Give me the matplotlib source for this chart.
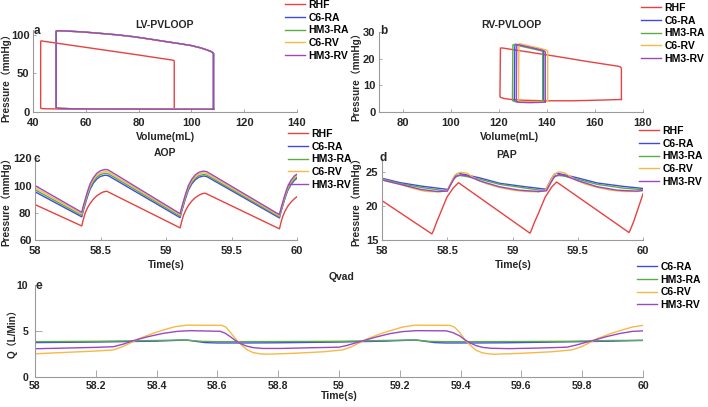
import matplotlib
matplotlib.use("Agg")
import matplotlib.pyplot as plt

plt.rcParams['font.family'] = ['Liberation Sans', 'Noto Sans CJK SC']
plt.rcParams['font.weight'] = 'bold'

# ---------------- colours / series names ----------------
names = ['RHF', 'C6-RA', 'HM3-RA', 'C6-RV', 'HM3-RV']
colors = {'RHF': '#e8413f', 'C6-RA': '#3f48e8', 'HM3-RA': '#5bab4a',
          'C6-RV': '#f7b844', 'HM3-RV': '#9a48c2'}

# ---------------- a: LV PV loops ----------------
lv_rhf_v = [93.5, 93.5, 93.2, 92.5, 80, 70, 60, 50, 44, 43.2, 42.9, 42.9, 43.3, 44.5, 50, 60, 70, 80, 90, 93.5]
lv_rhf_p = [3.0, 66.0, 67.0, 67.4, 73.9, 78.9, 83.9, 88.9, 91.9, 92.4, 92.0, 4.5, 3.9, 3.6, 3.3, 3.1, 3.0, 3.0, 3.0, 3.0]
lv_c6ra_v = [108.5, 108.5, 108.2, 107.4, 105.0, 103.3, 100.0, 95.0, 90.7, 85.0, 78.1, 72.0, 65.4, 59.0, 52.8, 50.0, 49.0, 48.6, 48.6, 49.1, 50.5, 55, 65, 80, 95, 108.5]
lv_c6ra_p = [3.0, 75.6, 77.1, 78.7, 81.7, 83.5, 86.3, 89.1, 91.3, 94.4, 97.9, 100.3, 102.3, 104.1, 105.3, 105.7, 105.7, 104.9, 5.2, 4.5, 4.0, 3.6, 3.3, 3.1, 3.0, 3.0]
lv_hm3ra_v = [108.3, 108.3, 108.0, 107.3, 105.0, 103.3, 100.0, 95.0, 90.7, 85.0, 78.1, 72.0, 65.4, 59.0, 52.8, 50.0, 49.2, 48.8, 48.8, 49.3, 50.5, 55, 65, 80, 95, 108.3]
lv_hm3ra_p = [3.0, 75.5, 77.0, 78.6, 81.6, 83.4, 86.2, 89.0, 91.2, 94.3, 97.8, 100.2, 102.2, 104.0, 105.2, 105.6, 105.6, 104.8, 5.2, 4.5, 4.0, 3.6, 3.3, 3.1, 3.0, 3.0]
lv_c6rv_v = [108.4, 108.4, 108.1, 107.3, 105.0, 103.3, 100.0, 95.0, 90.7, 85.0, 78.1, 72.0, 65.4, 59.0, 52.8, 50.0, 49.2, 48.8, 48.8, 49.3, 50.5, 55, 65, 80, 95, 108.4]
lv_c6rv_p = [3.1, 75.4, 76.9, 78.5, 81.5, 83.3, 86.1, 88.9, 91.1, 94.2, 97.7, 100.1, 102.1, 103.9, 105.1, 105.5, 105.5, 104.7, 5.2, 4.5, 4.0, 3.6, 3.3, 3.1, 3.1, 3.1]
lv_hm3rv_v = [108.3, 108.3, 108.0, 107.3, 105.0, 103.3, 100.0, 95.0, 90.7, 85.0, 78.1, 72.0, 65.4, 59.0, 52.8, 50.0, 49.2, 48.8, 48.8, 49.3, 50.5, 55, 65, 80, 95, 108.3]
lv_hm3rv_p = [3.0, 75.5, 77.0, 78.6, 81.6, 83.4, 86.2, 89.0, 91.2, 94.3, 97.8, 100.2, 102.2, 104.0, 105.2, 105.6, 105.6, 104.8, 5.2, 4.5, 4.0, 3.6, 3.3, 3.1, 3.0, 3.0]

# ---------------- b: RV PV loops ----------------
rv_rhf_v = [171.0, 171.0, 170.6, 169.5, 165.0, 155.0, 145.0, 135.0, 125.0, 121.5, 120.6, 120.4, 120.6, 122.0, 125.0, 130.0, 140.0, 150.0, 160.0, 171.0]
rv_rhf_p = [4.7, 16.3, 16.9, 17.2, 17.8, 19.2, 20.7, 22.1, 23.5, 24.0, 24.0, 5.9, 5.5, 5.1, 4.7, 4.4, 4.2, 4.2, 4.4, 4.7]
rv_c6ra_v = [138.6, 138.6, 138.2, 135.0, 131.0, 127.5, 126.6, 126.4, 126.7, 128.0, 132.0, 136.0, 138.6]
rv_c6ra_p = [3.9, 22.7, 23.1, 23.8, 24.6, 25.3, 25.4, 4.2, 3.9, 3.8, 3.7, 3.8, 3.9]
rv_hm3ra_v = [138.2, 138.2, 137.8, 134.5, 130.5, 126.8, 125.8, 125.6, 125.9, 127.5, 131.5, 135.5, 138.2]
rv_hm3ra_p = [4.1, 22.5, 22.9, 23.6, 24.4, 25.1, 25.2, 4.4, 4.1, 4.0, 3.9, 4.0, 4.1]
rv_c6rv_v = [140.3, 140.3, 139.9, 136.5, 132.5, 129.2, 128.3, 128.1, 128.4, 130.0, 134.0, 138.0, 140.3]
rv_c6rv_p = [4.0, 22.8, 23.2, 24.0, 24.8, 25.5, 25.6, 4.3, 4.0, 3.9, 3.8, 3.9, 4.0]
rv_hm3rv_v = [139.3, 139.3, 138.9, 135.5, 131.5, 128.3, 127.4, 127.2, 127.5, 129.0, 133.0, 137.0, 139.3]
rv_hm3rv_p = [3.8, 22.5, 22.9, 23.7, 24.5, 25.2, 25.3, 4.1, 3.8, 3.6, 3.5, 3.6, 3.8]

# ---------------- c: AOP ----------------
aop_rhf_t = [58.00, 58.357, 58.370, 58.382, 58.400, 58.420, 58.446, 58.471, 58.500, 58.525, 58.548, 58.800,
             59.108, 59.121, 59.133, 59.151, 59.171, 59.197, 59.222, 59.251, 59.276, 59.299, 59.550,
             59.866, 59.879, 59.891, 59.909, 59.929, 59.955, 59.980, 60.00]
aop_rhf = [86.0, 70.3, 75.5, 79.5, 83.5, 86.8, 90.0, 92.4, 94.3, 95.4, 95.8, 83.7,
           68.9, 74.0, 78.0, 82.0, 85.4, 88.6, 91.0, 92.9, 94.0, 94.4, 82.8,
           68.2, 73.3, 77.3, 81.3, 84.7, 87.9, 90.3, 91.8]
aop_t = [58.00, 58.357, 58.367, 58.382, 58.400, 58.420, 58.446, 58.472, 58.500, 58.535, 58.560, 58.800,
         59.108, 59.118, 59.133, 59.151, 59.171, 59.197, 59.223, 59.251, 59.286, 59.311, 59.550,
         59.866, 59.876, 59.891, 59.909, 59.929, 59.955, 59.981, 60.00]
aop_c6ra = [95.4, 77.0, 81.0, 85.9, 91.7, 97.2, 101.8, 104.8, 106.7, 107.6, 107.2, 93.7,
            76.4, 80.4, 85.3, 91.1, 96.6, 101.2, 104.2, 106.1, 107.0, 106.6, 93.5,
            76.2, 80.2, 85.0, 90.8, 96.3, 100.8, 103.9, 105.4]
aop_hm3ra = [96.9, 78.1, 82.1, 87.1, 92.9, 98.5, 103.1, 106.2, 108.1, 109.0, 108.6, 95.0,
             77.5, 81.5, 86.4, 92.2, 97.7, 102.3, 105.3, 107.2, 108.1, 107.7, 94.5,
             77.0, 81.0, 85.8, 91.6, 97.1, 101.7, 104.8, 106.3]
aop_c6rv = [98.4, 79.2, 83.2, 88.2, 94.1, 99.7, 104.4, 107.5, 109.4, 110.3, 109.9, 96.1,
            78.4, 82.4, 87.4, 93.2, 98.8, 103.4, 106.5, 108.4, 109.3, 108.9, 95.5,
            77.8, 81.8, 86.8, 92.7, 98.3, 102.9, 106.0, 107.5]
aop_hm3rv = [100.0, 80.3, 84.4, 89.4, 95.4, 101.1, 105.8, 109.0, 110.9, 111.8, 111.4, 97.3,
             79.3, 83.4, 88.4, 94.3, 100.0, 104.7, 107.8, 109.7, 110.6, 110.2, 96.6,
             78.6, 82.7, 87.7, 93.7, 99.3, 104.0, 107.2, 108.3]

# ---------------- d: PAP ----------------
pap_rhf_t = [58.00, 58.382, 58.395, 58.420, 58.446, 58.497, 58.547, 58.586, 59.134, 59.148, 59.170, 59.198,
             59.250, 59.300, 59.338, 59.893, 59.905, 59.930, 59.960, 60.00]
pap_rhf = [20.8, 15.9, 16.4, 17.7, 18.9, 21.3, 22.7, 23.45, 16.0, 16.6, 17.7, 18.9,
           21.3, 22.8, 23.55, 16.1, 16.6, 17.8, 19.5, 21.8]
pap_c6ra_t = [58.00, 58.14, 58.30, 58.497, 58.51, 58.547, 58.57, 58.586, 58.62, 58.65, 58.75, 58.904,
              59.10, 59.249, 59.26, 59.30, 59.32, 59.338, 59.40, 59.50, 59.65, 59.85, 60.00]
pap_c6ra = [24.1, 23.45, 22.95, 22.47, 22.6, 24.1, 24.65, 24.83, 24.7, 24.58, 24.15, 23.35,
            22.85, 22.5, 22.6, 24.1, 24.65, 24.85, 24.6, 24.15, 23.4, 22.9, 22.6]
pap_hm3ra_t = [58.00, 58.14, 58.30, 58.48, 58.50, 58.547, 58.575, 58.60, 58.65, 58.75, 58.904, 59.10,
               59.23, 59.26, 59.30, 59.33, 59.36, 59.40, 59.50, 59.65, 59.85, 60.00]
pap_hm3ra = [24.0, 23.3, 22.75, 22.25, 22.3, 23.9, 24.45, 24.5, 24.35, 23.95, 23.2, 22.65,
             22.3, 22.35, 23.9, 24.45, 24.5, 24.4, 23.95, 23.2, 22.65, 22.4]
pap_c6rv_t = [58.00, 58.07, 58.14, 58.22, 58.30, 58.344, 58.446, 58.497, 58.53, 58.56, 58.60, 58.65,
              58.726, 58.80, 58.90, 59.00, 59.10, 59.20, 59.25, 59.285, 59.315, 59.355, 59.40, 59.48,
              59.55, 59.65, 59.75, 59.85, 59.95, 60.00]
pap_c6rv = [23.9, 23.5, 23.2, 22.7, 22.3, 22.15, 22.1, 22.3, 23.5, 24.6, 24.97, 24.85,
            23.9, 23.3, 22.75, 22.35, 22.15, 22.1, 22.3, 23.5, 24.6, 25.05, 24.9, 23.9,
            23.3, 22.75, 22.35, 22.15, 22.15, 22.3]
pap_hm3rv_t = [58.00, 58.14, 58.30, 58.42, 58.50, 58.53, 58.56, 58.60, 58.65, 58.75, 58.90, 59.05,
               59.20, 59.26, 59.29, 59.32, 59.355, 59.40, 59.50, 59.65, 59.80, 59.95, 60.00]
pap_hm3rv = [23.85, 23.2, 22.45, 22.15, 22.2, 23.3, 24.3, 24.6, 24.5, 23.7, 22.85, 22.35,
             22.15, 22.25, 23.3, 24.3, 24.65, 24.5, 23.75, 22.85, 22.35, 22.2, 22.3]

# ---------------- e: Qvad ----------------
q_c6ra_t = [58.00, 58.20, 58.40, 58.48, 58.50, 58.53, 58.56, 58.60, 58.70, 58.80, 59.00, 59.15,
            59.23, 59.255, 59.285, 59.315, 59.35, 59.45, 59.55, 59.75, 59.90, 59.98, 60.00]
q_c6ra = [3.72, 3.78, 3.88, 3.98, 4.00, 3.85, 3.72, 3.68, 3.68, 3.70, 3.78, 3.88,
          3.98, 4.00, 3.85, 3.72, 3.68, 3.68, 3.70, 3.80, 3.88, 3.95, 3.96]
q_hm3ra_t = [58.00, 58.20, 58.40, 58.48, 58.51, 58.55, 58.60, 58.80, 59.00, 59.15, 59.235, 59.265,
             59.30, 59.35, 59.55, 59.75, 59.90, 60.00]
q_hm3ra = [3.82, 3.86, 3.95, 4.00, 3.95, 3.85, 3.82, 3.83, 3.86, 3.95, 4.00, 3.95,
           3.85, 3.82, 3.83, 3.86, 3.95, 3.96]
q_c6rv_t = [58.00, 58.10, 58.20, 58.258, 58.29, 58.345, 58.39, 58.422, 58.46, 58.499, 58.614, 58.628,
            58.641, 58.663, 58.685, 58.70, 58.718, 58.74, 58.76, 58.85, 58.95, 59.012, 59.04, 59.095,
            59.14, 59.175, 59.21, 59.25, 59.365, 59.38, 59.395, 59.415, 59.437, 59.45, 59.47, 59.49,
            59.51, 59.60, 59.70, 59.766, 59.80, 59.85, 59.895, 59.93, 59.965, 60.00]
q_c6rv = [2.50, 2.65, 2.80, 2.92, 3.30, 4.19, 4.75, 5.09, 5.45, 5.62, 5.60, 5.40,
          4.90, 4.00, 3.27, 2.90, 2.62, 2.50, 2.45, 2.55, 2.72, 2.92, 3.25, 4.15,
          4.72, 5.08, 5.42, 5.62, 5.60, 5.40, 4.90, 4.00, 3.27, 2.90, 2.62, 2.50,
          2.45, 2.55, 2.72, 2.92, 3.30, 4.15, 4.72, 5.08, 5.42, 5.60]
q_hm3rv_t = [58.00, 58.10, 58.20, 58.258, 58.29, 58.323, 58.37, 58.422, 58.47, 58.51, 58.609, 58.625,
             58.641, 58.657, 58.674, 58.695, 58.718, 58.75, 58.806, 58.90, 59.00, 59.025, 59.08, 59.125,
             59.168, 59.21, 59.255, 59.353, 59.375, 59.397, 59.413, 59.43, 59.45, 59.472, 59.50, 59.56,
             59.65, 59.75, 59.78, 59.835, 59.88, 59.925, 59.965, 60.00]
q_hm3rv = [3.05, 3.12, 3.20, 3.27, 3.55, 3.93, 4.35, 4.73, 4.95, 5.02, 4.95, 4.75,
           4.40, 4.00, 3.64, 3.35, 3.17, 3.08, 3.08, 3.15, 3.22, 3.40, 3.93, 4.35,
           4.70, 4.92, 5.02, 5.00, 4.80, 4.45, 4.05, 3.70, 3.40, 3.20, 3.10, 3.06,
           3.12, 3.22, 3.45, 3.95, 4.37, 4.72, 4.94, 5.00]

# ---------------- tick labels ----------------
a_xticks = [40, 60, 80, 100, 120, 140]
a_yticks = [0, 50, 100]
b_xticks = [80, 100, 120, 140, 160, 180]
b_yticks = [0, 10, 20, 30]
cd_xticks = [58, 58.5, 59, 59.5, 60]
cd_xlabels = ['58', '58.5', '59', '59.5', '60']
c_yticks = [60, 80, 100, 120]
d_yticks = [15, 20, 25]
e_xticks = [58, 58.2, 58.4, 58.6, 58.8, 59, 59.2, 59.4, 59.6, 59.8, 60]
e_xlabels = ['58', '58.2', '58.4', '58.6', '58.8', '59', '59.2', '59.4', '59.6', '59.8', '60']
e_yticks = [0, 5, 10]

W, H = 708, 407
fig = plt.figure(figsize=(W / 100, H / 100), dpi=100)


def add_ax(l, r, t, b):
    return fig.add_axes([l / W, 1 - b / H, (r - l) / W, (b - t) / H])


def fx(x):
    return x / W


def fy(y):
    return 1 - y / H


def style(ax, ticklen=2.5, size=8.0, xpad=2.5, ypad=2.5):
    for s in ['top', 'right']:
        ax.spines[s].set_visible(False)
    for s in ['left', 'bottom']:
        ax.spines[s].set_color('#9a9a9a')
        ax.spines[s].set_linewidth(0.8)
    ax.tick_params(direction='in', length=ticklen, width=0.6, color='#9a9a9a',
                   labelsize=size, labelcolor='#262626')
    ax.tick_params(axis='x', pad=xpad)
    ax.tick_params(axis='y', pad=ypad)


LW = 1.0
axA = add_ax(33, 297, 29.7, 111.5)
for n, v, p in [('RHF', lv_rhf_v, lv_rhf_p), ('C6-RA', lv_c6ra_v, lv_c6ra_p),
                ('HM3-RA', lv_hm3ra_v, lv_hm3ra_p), ('C6-RV', lv_c6rv_v, lv_c6rv_p),
                ('HM3-RV', lv_hm3rv_v, lv_hm3rv_p)]:
    axA.plot(v, p, color=colors[n], lw=LW, label=n)
axA.set_xlim(40, 140)
axA.set_ylim(0, 107)
axA.set_xticks(a_xticks)
axA.set_yticks(a_yticks)
style(axA, xpad=4.5)

axB = add_ax(379, 643, 32, 112)
for n, v, p in [('RHF', rv_rhf_v, rv_rhf_p), ('C6-RA', rv_c6ra_v, rv_c6ra_p),
                ('HM3-RA', rv_hm3ra_v, rv_hm3ra_p), ('C6-RV', rv_c6rv_v, rv_c6rv_p),
                ('HM3-RV', rv_hm3rv_v, rv_hm3rv_p)]:
    axB.plot(v, p, color=colors[n], lw=LW, label=n)
axB.set_xlim(70, 180)
axB.set_ylim(0, 30)
axB.set_xticks(b_xticks)
axB.set_yticks(b_yticks)
style(axB, xpad=4.5)

axC = add_ax(35, 297, 158.3, 240)
axC.plot(aop_rhf_t, aop_rhf, color=colors['RHF'], lw=LW, label='RHF')
for n, y in [('C6-RA', aop_c6ra), ('HM3-RA', aop_hm3ra), ('C6-RV', aop_c6rv), ('HM3-RV', aop_hm3rv)]:
    axC.plot(aop_t, y, color=colors[n], lw=LW, label=n)
axC.set_xlim(58, 60)
axC.set_ylim(60, 120)
axC.set_xticks(cd_xticks)
axC.set_xticklabels(cd_xlabels)
axC.set_yticks(c_yticks)
style(axC, xpad=4.5)

axD = add_ax(382, 643, 158.6, 240)
for n, t, y in [('RHF', pap_rhf_t, pap_rhf), ('C6-RA', pap_c6ra_t, pap_c6ra),
                ('HM3-RA', pap_hm3ra_t, pap_hm3ra), ('C6-RV', pap_c6rv_t, pap_c6rv),
                ('HM3-RV', pap_hm3rv_t, pap_hm3rv)]:
    axD.plot(t, y, color=colors[n], lw=LW, label=n)
axD.set_xlim(58, 60)
axD.set_ylim(15, 27)
axD.set_xticks(cd_xticks)
axD.set_xticklabels(cd_xlabels)
axD.set_yticks(d_yticks)
style(axD, xpad=4.5)

axE = add_ax(35, 643, 285, 376.7)
for n, t, y in [('C6-RA', q_c6ra_t, q_c6ra), ('HM3-RA', q_hm3ra_t, q_hm3ra),
                ('C6-RV', q_c6rv_t, q_c6rv), ('HM3-RV', q_hm3rv_t, q_hm3rv)]:
    axE.plot(t, y, color=colors[n], lw=LW, label=n)
axE.set_xlim(58, 60)
axE.set_ylim(0, 10)
axE.set_xticks(e_xticks)
axE.set_xticklabels(e_xlabels)
axE.set_yticks(e_yticks)
style(axE, ticklen=5, size=7.6, xpad=3, ypad=5)

# legends
for ax, (lx, ly) in [(axA, (285, 0)), (axB, (641, 3)), (axC, (288, 129)), (axD, (639, 126)), (axE, (637, 262))]:
    h, l = ax.get_legend_handles_labels()
    fig.legend(h, l, loc='upper left', bbox_to_anchor=(fx(lx), fy(ly)), frameon=False,
               prop={'size': 7.5, 'weight': 'bold'}, handlelength=1.95, handletextpad=0.3,
               labelspacing=0.26, borderpad=0, borderaxespad=0)

# titles, axis labels, panel letters
tkw = dict(ha='center', va='center', fontsize=7.5, fontweight='bold', color='#262626')
fig.text(fx(165), fy(25), 'LV-PVLOOP', **tkw)
fig.text(fx(511), fy(25), 'RV-PVLOOP', **tkw)
fig.text(fx(165), fy(153), 'AOP', **tkw)
fig.text(fx(507), fy(155), 'PAP', **tkw)
fig.text(fx(342), fy(277), 'Qvad', **tkw)

xkw = dict(ha='center', va='center', fontsize=7.5, fontweight='bold', color='#262626')
fig.text(fx(165), fy(137.5), 'Volume(mL)', **xkw)
fig.text(fx(509), fy(137.5), 'Volume(mL)', **xkw)
fig.text(fx(166), fy(265), 'Time(s)', **xkw)
fig.text(fx(513), fy(265), 'Time(s)', **xkw)
fig.text(fx(339), fy(396), 'Time(s)', **xkw)

ykw = dict(ha='center', va='center', rotation=90, fontsize=7.2, fontweight='bold', color='#262626')
fig.text(fx(6.5), fy(75), 'Pressure（mmHg）', **ykw)
fig.text(fx(356.5), fy(74), 'Pressure（mmHg）', **ykw)
fig.text(fx(6.5), fy(199), 'Pressure（mmHg）', **ykw)
fig.text(fx(356.5), fy(199), 'Pressure（mmHg）', **ykw)
fig.text(fx(12), fy(331), 'Q（L/Min）', **ykw)

lkw = dict(ha='center', va='center', fontsize=8.5, fontweight='bold', color='#262626')
fig.text(fx(36.5), fy(31.5), 'a', **lkw)
fig.text(fx(384), fy(31.5), 'b', **lkw)
fig.text(fx(36.5), fy(159.5), 'c', **lkw)
fig.text(fx(383.5), fy(158.5), 'd', **lkw)
fig.text(fx(39), fy(286), 'e', **lkw)

fig.savefig('out.png', dpi=100)
